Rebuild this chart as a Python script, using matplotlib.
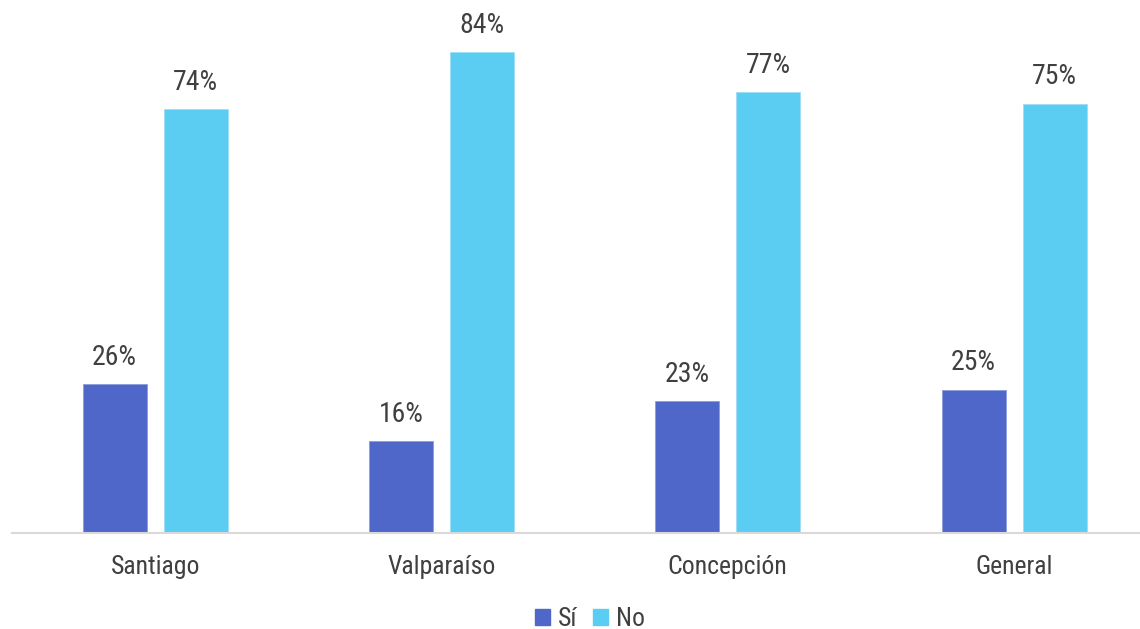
import matplotlib
matplotlib.use("Agg")
import matplotlib.pyplot as plt
from matplotlib import font_manager
from matplotlib.patches import Patch
import numpy as np

categories = ["Santiago", "Valparaíso", "Concepción", "General"]
si_values = [26, 16, 23, 25]
no_values = [74, 84, 77, 75]
series_names = ["Sí", "No"]

avail = {f.name for f in font_manager.fontManager.ttflist}
fam = [f for f in ["Liberation Sans Narrow", "Arial Narrow", "Roboto Condensed", "Liberation Sans"] if f in avail]
plt.rcParams['font.family'] = fam + ["DejaVu Sans"]

c_si = "#4F67C8"
c_no = "#5BCCF2"
tcol = "#404040"

W, H = 1140, 629
fig = plt.figure(figsize=(W / 100, H / 100), dpi=100)
left = 12 / W
bottom = (H - 533) / H
top_px = 533 - 90 * 5.726
ax = fig.add_axes([left, bottom, 1 - left, (533 - top_px) / H])

x = np.arange(len(categories))
off = 0.1415
bw = 0.2235
b1 = ax.bar(x - off, si_values, bw, color=c_si, edgecolor="#8C9BDB", linewidth=0.6)
b2 = ax.bar(x + off, no_values, bw, color=c_no, edgecolor="#9EDDF5", linewidth=0.6)

for bars, vals in ((b1, si_values), (b2, no_values)):
    for r, v in zip(bars, vals):
        ax.annotate(f"{v}%", (r.get_x() + r.get_width() / 2, r.get_height()),
                    xytext=(0, 14), textcoords="offset points", ha="center", va="baseline",
                    fontsize=20, color=tcol)

ax.set_xlim(-0.5, 3.44)
ax.set_ylim(0, 90)
ax.set_yticks([])
ax.set_xticks(x)
ax.set_xticklabels(categories, fontsize=18.5, color=tcol)
ax.tick_params(axis="x", length=0, pad=16)
for s in ["top", "right", "left"]:
    ax.spines[s].set_visible(False)
ax.spines["bottom"].set_color("#D9D9D9")
ax.spines["bottom"].set_linewidth(1.5)

handles = [Patch(color=c_si), Patch(color=c_no)]
fig.legend(handles, series_names, loc="center", bbox_to_anchor=(590 / W, 1 - 619 / H),
           ncol=2, frameon=False, fontsize=18.5, handlelength=0.6, handleheight=0.6,
           handletextpad=0.3, columnspacing=0.6, labelcolor=tcol)

fig.savefig("out.png", dpi=100)
